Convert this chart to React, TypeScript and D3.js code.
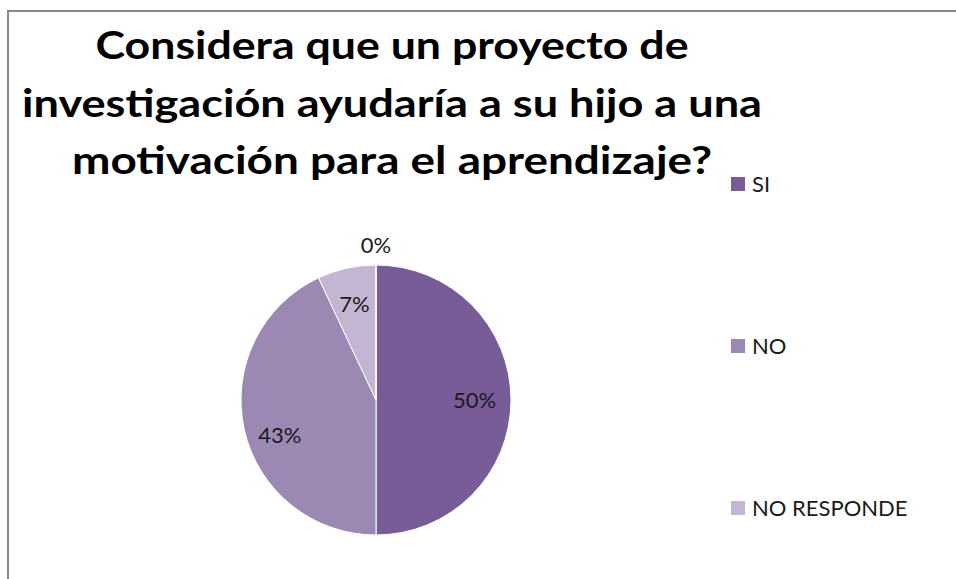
import { useMemo } from 'react';
import * as d3 from 'd3';

const TITLE_LINES = [
  'Considera que un proyecto de',
  'investigación ayudaría a su hijo a una',
  'motivación para el aprendizaje?',
];
const TITLE_WIDTHS = [593, 740, 640];

const CATEGORIES = ['SI', 'NO', 'NO RESPONDE', ''];
const VALUES = [50, 43, 7, 0];
const LEGEND_ITEMS = ['SI', 'NO', 'NO RESPONDE'];

const COLORS = ['#775c98', '#9b88b3', '#c2b6d3', '#dcd5e6'];

const WIDTH = 956;
const HEIGHT = 579;

interface Slice {
  name: string;
  value: number;
}

export default function App() {
  const data: Slice[] = CATEGORIES.map((name, i) => ({ name, value: VALUES[i] }));

  const cx = 376;
  const cy = 400;
  const radius = 135;

  const arcs = useMemo(() => {
    const pie = d3.pie<Slice>().sort(null).value(d => d.value).startAngle(0).endAngle(2 * Math.PI);
    return pie(data);
  }, []);

  const arc = d3.arc<d3.PieArcDatum<Slice>>().innerRadius(0).outerRadius(radius);
  const total = d3.sum(VALUES);

  const color = d3.scaleOrdinal<string, string>().domain(CATEGORIES).range(COLORS);

  const legendY = d3.scalePoint<string>().domain(LEGEND_ITEMS).range([184, 508]);

  // Excel-ish label placement: inside the slice, zero slices outside the rim
  const labelPos = (d: d3.PieArcDatum<Slice>) => {
    const mid = (d.startAngle + d.endAngle) / 2;
    if (d.value === 0) {
      const r = radius + 20;
      return [r * Math.sin(mid), -r * Math.cos(mid)];
    }
    const r = radius * 0.73;
    const shift = Math.sin(mid) < 0 && d.endAngle - d.startAngle > 2 ? 14 : 0;
    return [r * Math.sin(mid), -r * Math.cos(mid) + shift];
  };

  return (
    <div style={{ position: 'absolute', left: 0, top: 0 }}>
      <svg width={WIDTH} height={HEIGHT} style={{ display: 'block', fontFamily: 'Lato, "Open Sans", sans-serif' }}>
        <rect x={0} y={0} width={WIDTH} height={HEIGHT} fill="#fff" />
        <rect x={8} y={11} width={WIDTH + 20} height={HEIGHT + 20} fill="none" stroke="#888" strokeWidth={2} />

        {TITLE_LINES.map((t, i) => (
          <text
            key={i}
            x={392}
            y={59 + i * 57.5}
            textAnchor="middle"
            fontSize={39}
            fontWeight="bold"
            fill="#000"
            textLength={TITLE_WIDTHS[i]}
            lengthAdjust="spacingAndGlyphs"
          >
            {t}
          </text>
        ))}

        <g transform={`translate(${cx},${cy})`}>
          {arcs.map((d, i) => (
            <path key={i} d={arc(d) || ''} fill={color(d.data.name)} stroke="#fff" strokeWidth={1} />
          ))}
          {arcs.map((d, i) => {
            const [x, y] = labelPos(d);
            return (
              <text
                key={`l${i}`}
                x={x}
                y={y}
                dy="0.35em"
                textAnchor="middle"
                fontSize={22}
                fill="#1a1a1a"
              >
                {d3.format('.0%')(d.value / total)}
              </text>
            );
          })}
        </g>

        {LEGEND_ITEMS.map(name => (
          <g key={name} transform={`translate(731,${legendY(name)})`}>
            <rect x={0} y={-7} width={14} height={14} fill={color(name)} />
            <text x={21} y={0} dy="0.36em" fontSize={22} fill="#1a1a1a">
              {name}
            </text>
          </g>
        ))}
      </svg>
    </div>
  );
}
